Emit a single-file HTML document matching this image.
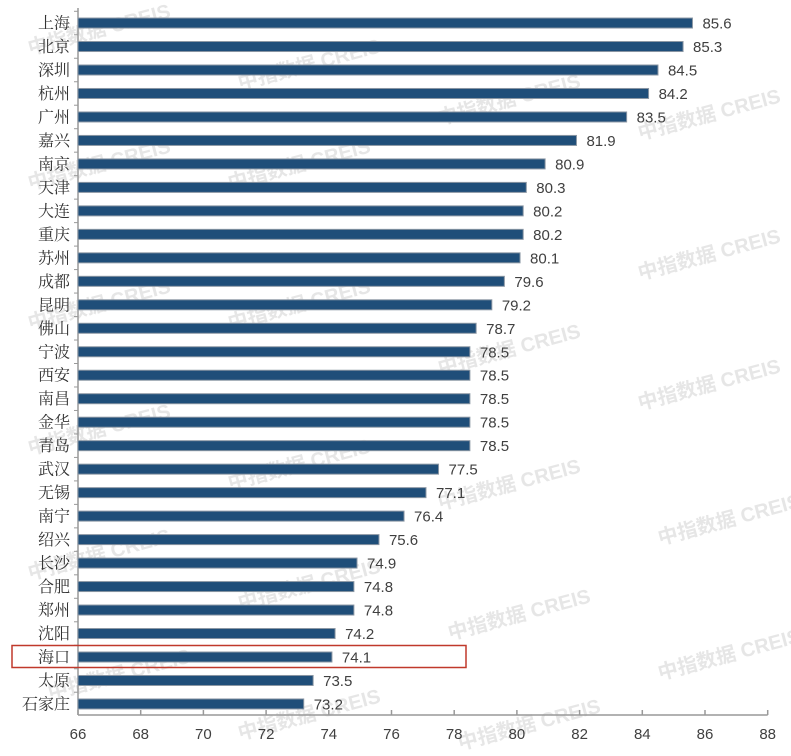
<!DOCTYPE html>
<html><head><meta charset="utf-8"><style>
body{margin:0;background:#fff;}
svg{display:block;}
.cat{font-family:"Liberation Serif","Noto Serif CJK SC",serif;font-size:16px;fill:#333;}
.val{font-family:"Liberation Sans","Noto Sans CJK SC",sans-serif;font-size:15px;fill:#404040;}
.tick{font-family:"Liberation Sans",sans-serif;font-size:15px;fill:#404040;}
</style></head><body>
<svg id="chart" width="791" height="756"></svg>
<script>
const categories=["上海","北京","深圳","杭州","广州","嘉兴","南京","天津","大连","重庆","苏州","成都","昆明","佛山","宁波","西安","南昌","金华","青岛","武汉","无锡","南宁","绍兴","长沙","合肥","郑州","沈阳","海口","太原","石家庄"];
const values=[85.6,85.3,84.5,84.2,83.5,81.9,80.9,80.3,80.2,80.2,80.1,79.6,79.2,78.7,78.5,78.5,78.5,78.5,78.5,77.5,77.1,76.4,75.6,74.9,74.8,74.8,74.2,74.1,73.5,73.2];
const ticks=[66,68,70,72,74,76,78,80,82,84,86,88];
const highlight="海口";
const NS="http://www.w3.org/2000/svg";
const svg=document.getElementById('chart');
const x0=78,x1=767.7,xmin=66,xmax=88;
const xs=v=>x0+(v-xmin)/(xmax-xmin)*(x1-x0);
const rowTop=11.3,rowH=23.48,axisY=715;
const yc=i=>rowTop+rowH*(i+0.5);
function mk(t,a){const e=document.createElementNS(NS,t);for(const k in a)e.setAttribute(k,a[k]);svg.appendChild(e);return e;}
// watermarks
const wm=[[30,55],[240,90],[440,125],[640,140],[30,190],[230,190],[640,280],[30,330],[230,330],[440,375],[640,410],[30,455],[230,490],[440,510],[660,545],[30,580],[240,610],[450,640],[660,680],[50,700],[240,740],[460,750]];
wm.forEach((p,i)=>{const t=mk('text',{x:p[0],y:p[1],transform:`rotate(-15 ${p[0]} ${p[1]})`,'font-family':'"Liberation Sans","Noto Sans CJK SC",sans-serif','font-size':'20','font-weight':'bold',fill:'#e6e6e6'});t.textContent='中指数据 CREIS';

});
// axes
let a=mk('line',{x1:x0,y1:8,x2:x0,y2:axisY,stroke:'#999','stroke-width':1.5});


a=mk('line',{x1:x0,y1:axisY,x2:x1,y2:axisY,stroke:'#999','stroke-width':1.5});


ticks.forEach(t=>{const x=xs(t);
const l=mk('line',{x1:x,y1:axisY-5,x2:x,y2:axisY,stroke:'#999','stroke-width':1.5});


const tx=mk('text',{x:x,y:axisY+24,'text-anchor':'middle',class:'tick'});tx.textContent=t;

});
categories.forEach((c,i)=>{const y=yc(i);
const tk=mk('line',{x1:x0-4,y1:rowTop+rowH*i,x2:x0,y2:rowTop+rowH*i,stroke:'#999'});


const b=mk('rect',{x:x0,y:y-5,width:xs(values[i])-x0,height:10,fill:'#1f4e79',stroke:'#8a96a3','stroke-width':1});


const t=mk('text',{x:x0-8,y:y+5.5,'text-anchor':'end',class:'cat'});t.textContent=c;


const v=mk('text',{x:xs(values[i])+10,y:y+5.5,class:'val'});v.textContent=values[i].toFixed(1);


if(c===highlight){const r=mk('rect',{x:12,y:y-11.5,width:454,height:22,fill:'none',stroke:'#c0392b','stroke-width':1.5});

}
});
</script>
</body></html>
